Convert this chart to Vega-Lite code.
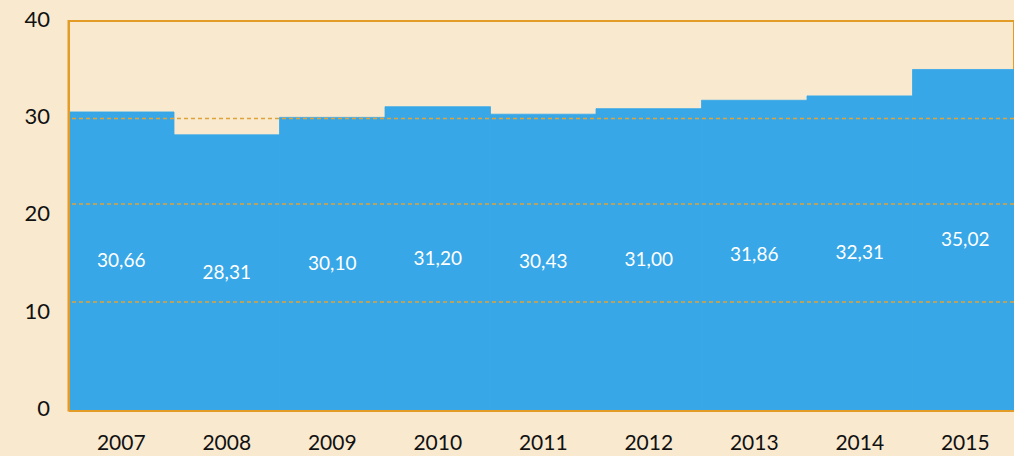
{
  "$schema": "https://vega.github.io/schema/vega-lite/v6.json",
  "width": 945.5,
  "height": 389.5,
  "autosize": "none",
  "padding": {"left": 68.5, "top": 21, "right": 0, "bottom": 45.5},
  "background": "#f8e9cf",
  "config": {
    "view": {"stroke": "#e39c28", "strokeWidth": 2},
    "font": "Lato"
  },
  "data": {
    "values": [
      {"year": "2007", "value": 30.66, "label": "30,66"},
      {"year": "2008", "value": 28.31, "label": "28,31"},
      {"year": "2009", "value": 30.10, "label": "30,10"},
      {"year": "2010", "value": 31.20, "label": "31,20"},
      {"year": "2011", "value": 30.43, "label": "30,43"},
      {"year": "2012", "value": 31.00, "label": "31,00"},
      {"year": "2013", "value": 31.86, "label": "31,86"},
      {"year": "2014", "value": 32.31, "label": "32,31"},
      {"year": "2015", "value": 35.02, "label": "35,02"}
    ]
  },
  "layer": [
    {
      "mark": {"type": "bar", "color": "#37a7e7", "stroke": "#37a7e7", "strokeWidth": 0.8},
      "encoding": {
        "x": {
          "field": "year", "type": "nominal",
          "scale": {"paddingInner": 0, "paddingOuter": 0, "range": [0, 949.5]},
          "axis": {
            "title": null, "labelAngle": 0, "ticks": false,
            "labelFont": "Lato", "labelFontSize": 21, "labelColor": "#111111",
            "labelBaseline": "alphabetic", "labelPadding": 39,
            "domainColor": "#e39c28", "domainWidth": 2, "zindex": 1
          }
        },
        "y": {
          "field": "value", "type": "quantitative",
          "scale": {"domain": [0, 40], "nice": false},
          "axis": {
            "title": null, "values": [0, 10, 20, 30, 40], "grid": false, "ticks": false,
            "labelFont": "Lato", "labelFontSize": 22, "labelColor": "#111111",
            "labelPadding": 19, "labelFlush": false, "labelOffset": -2,
            "domainColor": "#e39c28", "domainWidth": 2, "zindex": 1
          }
        }
      }
    },
    {
      "data": {"values": [{"g": 11.14}, {"g": 21.2}, {"g": 29.98}]},
      "mark": {"type": "rule", "color": "#e0a23a", "strokeWidth": 1.4, "strokeDash": [4, 3]},
      "encoding": {
        "y": {"field": "g", "type": "quantitative", "scale": {"domain": [0, 40], "nice": false}, "axis": null}
      }
    },
    {
      "mark": {"type": "text", "color": "#ffffff", "fontSize": 19, "font": "Lato", "baseline": "middle"},
      "encoding": {
        "x": {"field": "year", "type": "nominal"},
        "y": {"field": "value", "type": "quantitative", "scale": {"domain": [0, 80], "nice": false}, "axis": null},
        "text": {"field": "label"}
      }
    }
  ],
  "resolve": {"scale": {"y": "independent"}}
}
